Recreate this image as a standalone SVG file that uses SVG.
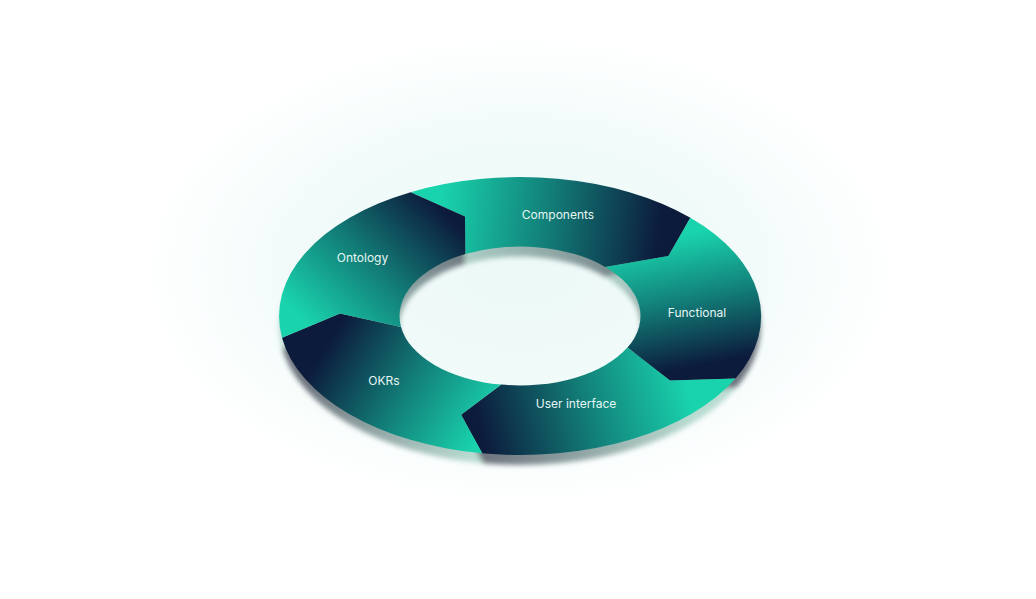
<svg xmlns="http://www.w3.org/2000/svg" width="1036" height="599" viewBox="0 0 1036 599">
  <defs>
    <radialGradient id="glow" gradientUnits="userSpaceOnUse" cx="520" cy="270" r="380" gradientTransform="translate(520 270) scale(1 0.62) translate(-520 -270)">
      <stop offset="0" stop-color="#ecf9f7"/>
      <stop offset="0.6" stop-color="#f2fbfa"/>
      <stop offset="1" stop-color="#ffffff"/>
    </radialGradient>
    <linearGradient id="gComp" gradientUnits="userSpaceOnUse" x1="437.8" y1="223" x2="658.7" y2="248.9">
      <stop offset="0" stop-color="#19d3ad"/><stop offset="0.5" stop-color="#127c77"/><stop offset="1" stop-color="#0c1a3b"/>
    </linearGradient>
    <linearGradient id="gFunc" gradientUnits="userSpaceOnUse" x1="648" y1="242.2" x2="673.5" y2="371.3">
      <stop offset="0" stop-color="#19d3ad"/><stop offset="0.5" stop-color="#127c77"/><stop offset="1" stop-color="#0c1a3b"/>
    </linearGradient>
    <linearGradient id="gUI" gradientUnits="userSpaceOnUse" x1="681.3" y1="363.4" x2="476.2" y2="417.3">
      <stop offset="0" stop-color="#19d3ad"/><stop offset="0.5" stop-color="#127c77"/><stop offset="1" stop-color="#0c1a3b"/>
    </linearGradient>
    <linearGradient id="gOKR" gradientUnits="userSpaceOnUse" x1="491.7" y1="419.1" x2="339.4" y2="323.3">
      <stop offset="0" stop-color="#19d3ad"/><stop offset="0.5" stop-color="#127c77"/><stop offset="1" stop-color="#0c1a3b"/>
    </linearGradient>
    <linearGradient id="gOnt" gradientUnits="userSpaceOnUse" x1="330" y1="345" x2="452.2" y2="219.2">
      <stop offset="0" stop-color="#19d3ad"/><stop offset="0.5" stop-color="#127c77"/><stop offset="1" stop-color="#0c1a3b"/>
    </linearGradient>
    <filter id="depth" x="-10%" y="-10%" width="120%" height="130%">
      <feGaussianBlur stdDeviation="2.5"/>
      <feColorMatrix type="saturate" values="0.45"/>
    </filter>
    <path id="pComp" d="M410.6,192.2 A241,139 0 0 1 690.4,217.7 L668.3,256.1 L605.2,266.9 A120.5,69.5 0 0 0 465.3,254.1 L465,216.5 Z"/>
    <path id="pFunc" d="M690.4,217.7 A241,139 0 0 1 735.5,378.5 L670,380.5 L627.4,347.6 A120.5,69.5 0 0 0 605.2,266.9 L668.3,256.1 Z"/>
    <path id="pUI" d="M735.5,378.5 A241,139 0 0 1 482.3,453.3 L461.1,414.7 L501.2,384.6 A120.5,69.5 0 0 0 627.4,347.6 L670,380.5 Z"/>
    <path id="pOKR" d="M482.3,453.3 A241,139 0 0 1 282,337.7 L340,313.5 L401,326.9 A120.5,69.5 0 0 0 501.2,384.6 L461.1,414.7 Z"/>
    <path id="pOnt" d="M282,337.7 A241,139 0 0 1 410.6,192.2 L465,216.5 L465.3,254.1 A120.5,69.5 0 0 0 401,326.9 L340,313.5 Z"/>
  </defs>
  <style>
    .lbl { font-family: Inter, "Noto Sans", "Liberation Sans", sans-serif; font-size: 12px; fill: #e6f6f3; text-anchor: middle; }
  </style>
  <rect x="0" y="0" width="1036" height="599" fill="#ffffff"/>
  <rect x="0" y="0" width="1036" height="599" fill="url(#glow)"/>

  <g id="depth-shadow" transform="translate(0 10)" filter="url(#depth)" opacity="0.6">
    <use href="#pComp" fill="url(#gComp)"/>
    <use href="#pFunc" fill="url(#gFunc)"/>
    <use href="#pUI" fill="url(#gUI)"/>
    <use href="#pOKR" fill="url(#gOKR)"/>
    <use href="#pOnt" fill="url(#gOnt)"/>
  </g>

  <g id="components">
    <use href="#pComp" fill="url(#gComp)"/>
    <text class="lbl" x="558" y="219">Components</text>
  </g>
  <g id="functional">
    <use href="#pFunc" fill="url(#gFunc)"/>
    <text class="lbl" x="697" y="317">Functional</text>
  </g>
  <g id="user-interface">
    <use href="#pUI" fill="url(#gUI)"/>
    <text class="lbl" x="576" y="408">User interface</text>
  </g>
  <g id="okrs">
    <use href="#pOKR" fill="url(#gOKR)"/>
    <text class="lbl" x="384" y="385">OKRs</text>
  </g>
  <g id="ontology">
    <use href="#pOnt" fill="url(#gOnt)"/>
    <text class="lbl" x="362.5" y="262">Ontology</text>
  </g>
  <g id="connectors"/>
</svg>
